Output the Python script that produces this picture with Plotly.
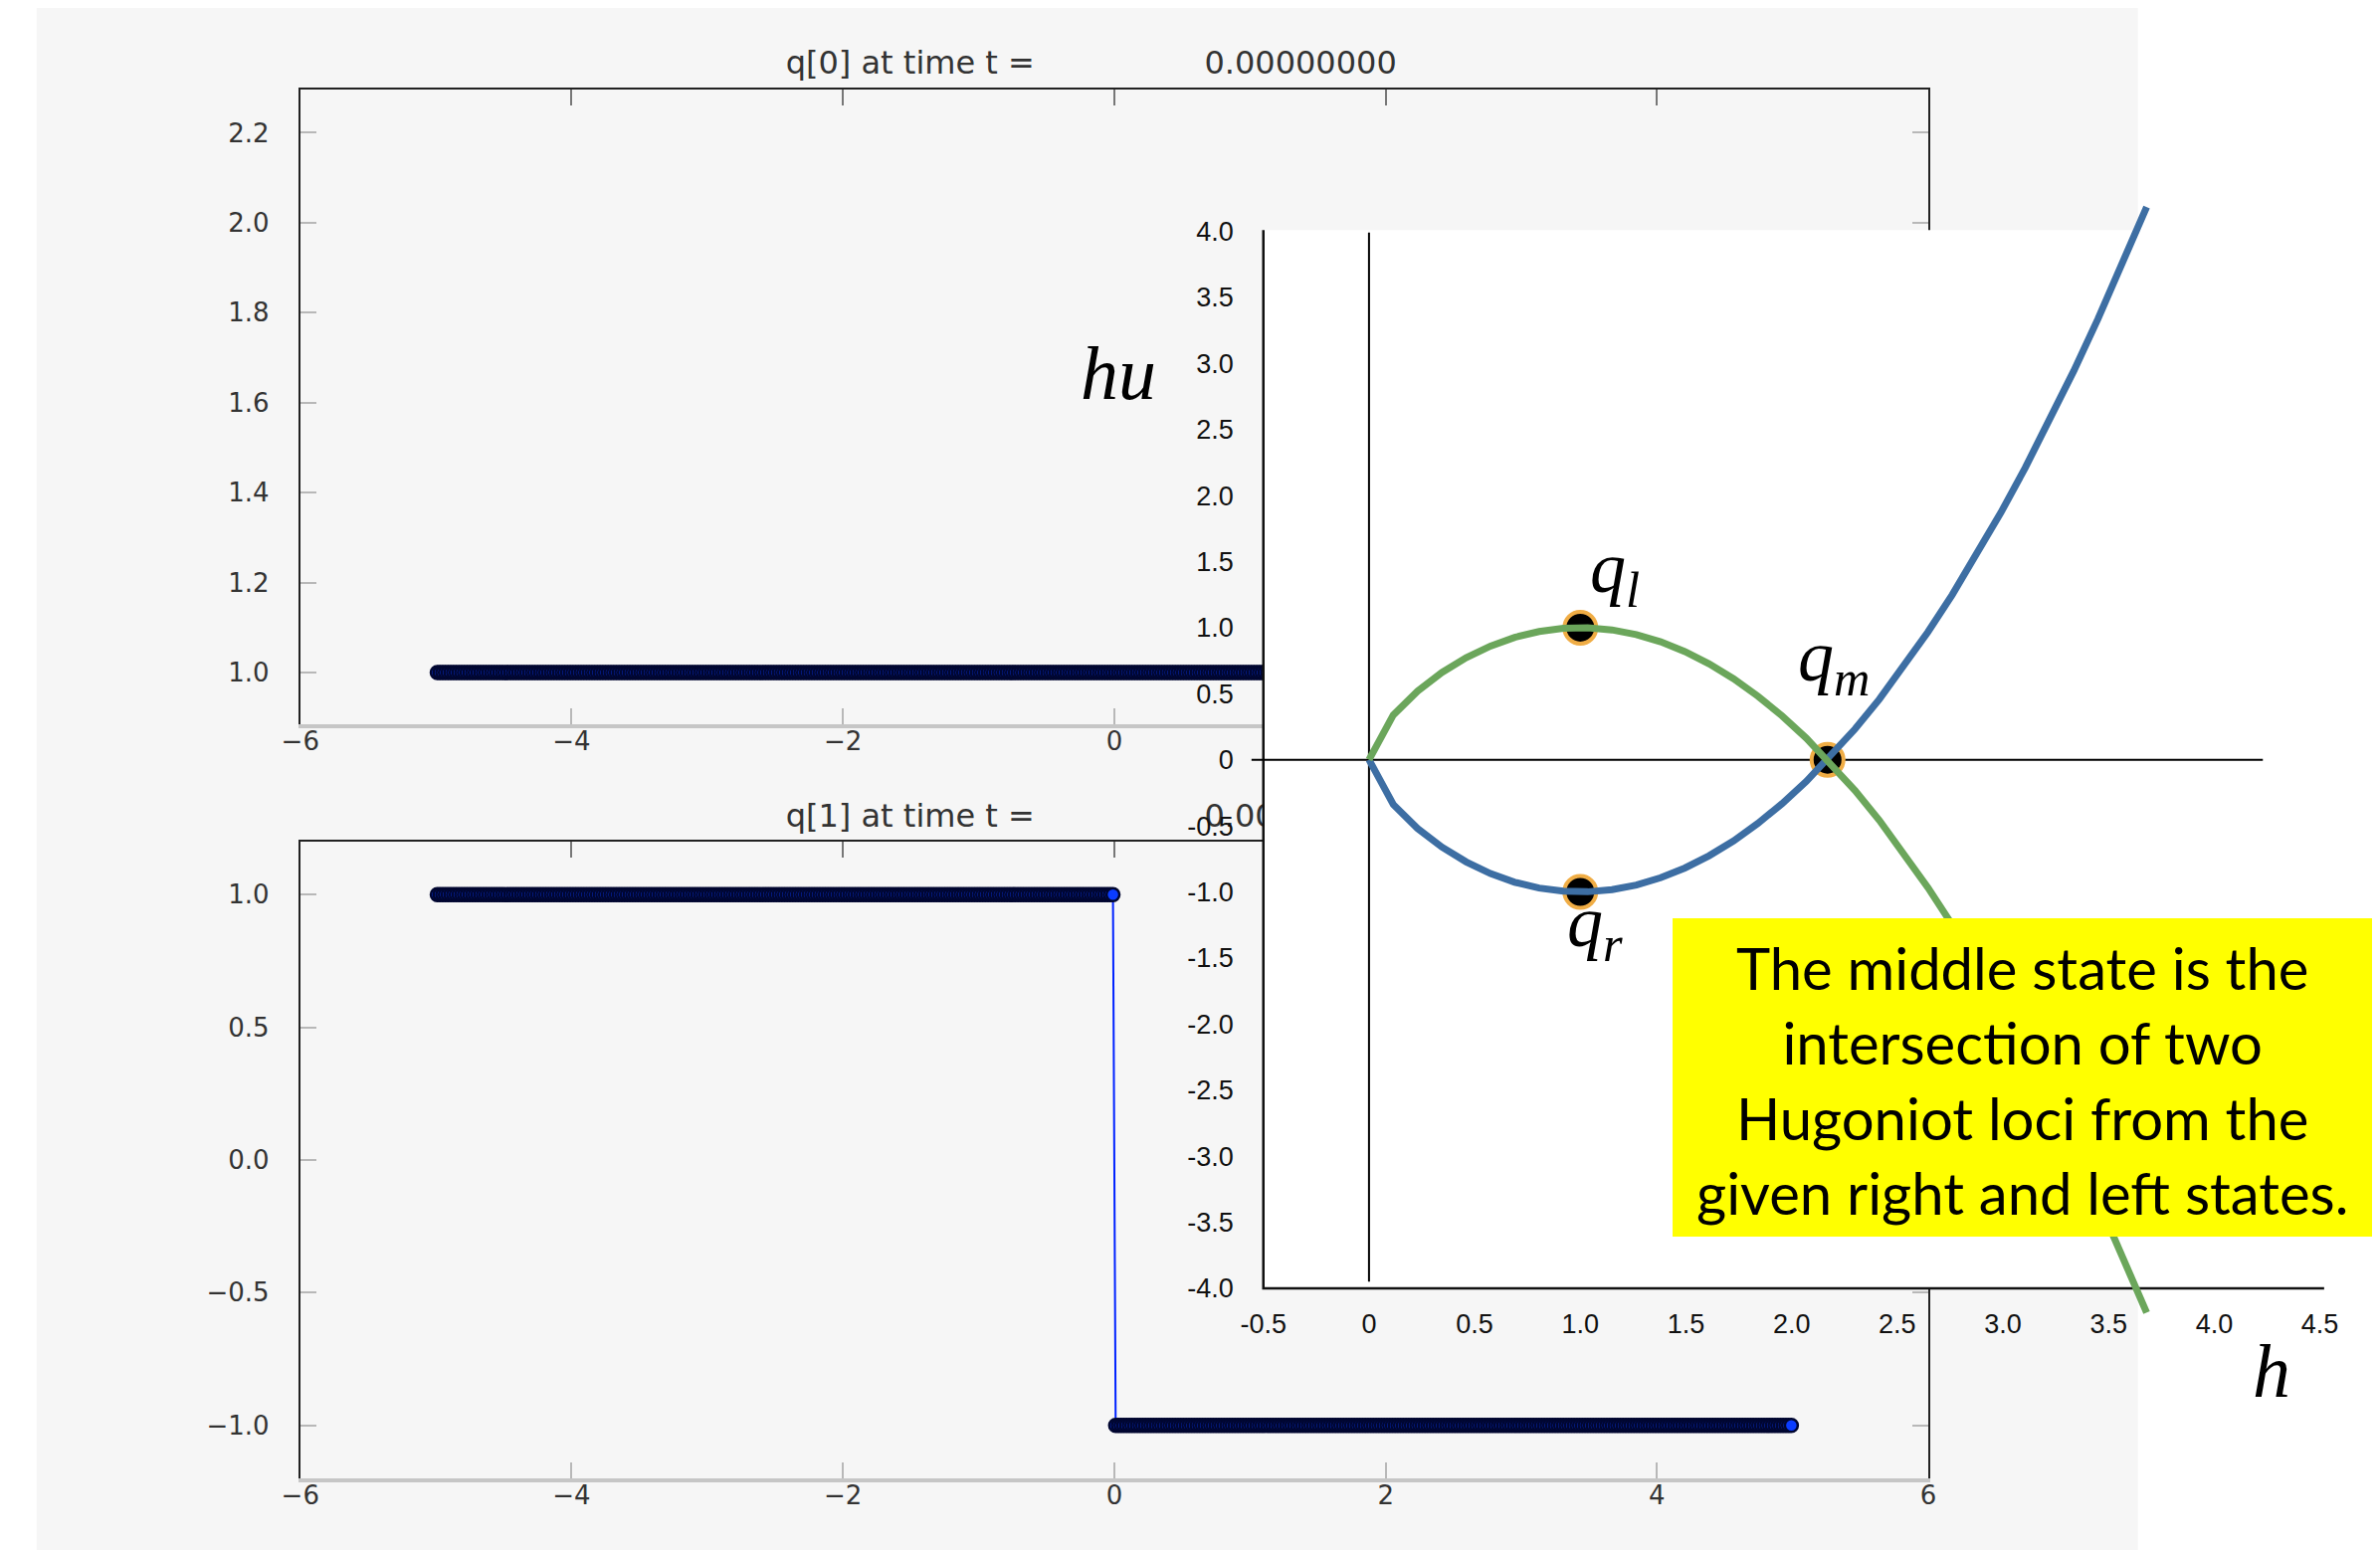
import numpy as np
import plotly.graph_objects as go

W, H = 2392, 1558

# ---------------------------------------------------------------------------
# Finite-volume snapshot of the shallow water Riemann problem at t = 0
# ---------------------------------------------------------------------------
num_cells = 500
x_lower, x_upper = -5.0, 5.0
depth_left, depth_right = 1.0, 1.0          # q[0] = h
momentum_left, momentum_right = 1.0, -1.0   # q[1] = hu

# ---------------------------------------------------------------------------
# Phase plane (h, hu): Hugoniot loci through the left and right states
# ---------------------------------------------------------------------------
h_samples = [0.0, 0.115, 0.23, 0.345, 0.46, 0.575, 0.69, 0.805, 0.92, 1.035,
             1.15, 1.265, 1.38, 1.495, 1.61, 1.725, 1.84, 1.955, 2.07, 2.185,
             2.3, 2.415, 2.53, 2.645, 2.76, 2.875, 2.99, 3.105, 3.22, 3.335,
             3.45, 3.565, 3.68]
hu_locus_left = [0.0, 0.339, 0.520, 0.661, 0.773, 0.861, 0.927, 0.971, 0.995,
                 0.999, 0.983, 0.948, 0.893, 0.819, 0.726, 0.614, 0.482, 0.332,
                 0.163, -0.026, -0.233, -0.458, -0.703, -0.967, -1.249, -1.550,
                 -1.870, -2.209, -2.567, -2.943, -3.338, -3.752, -4.184]
hu_locus_right = [0.0, -0.339, -0.520, -0.661, -0.773, -0.861, -0.927, -0.971,
                  -0.995, -0.999, -0.983, -0.948, -0.893, -0.819, -0.726, -0.614,
                  -0.482, -0.332, -0.163, 0.026, 0.233, 0.458, 0.703, 0.967, 1.249,
                  1.550, 1.870, 2.209, 2.567, 2.943, 3.338, 3.752, 4.184]

state_h = [1.0, 2.17, 1.0]       # q_l, q_m, q_r
state_hu = [1.0, 0.0, -1.0]

# ---------------------------------------------------------------------------
# Tick values / labels
# ---------------------------------------------------------------------------
sim_x_ticks = [-6, -4, -2, 0, 2, 4, 6]
sim_x_text = ["\u22126", "\u22124", "\u22122", "0", "2", "4", "6"]
depth_ticks = [1.0, 1.2, 1.4, 1.6, 1.8, 2.0, 2.2]
depth_text = ["1.0", "1.2", "1.4", "1.6", "1.8", "2.0", "2.2"]
mom_ticks = [-1.0, -0.5, 0.0, 0.5, 1.0]
mom_text = ["\u22121.0", "\u22120.5", "0.0", "0.5", "1.0"]
phase_h_ticks = [-0.5, 0, 0.5, 1.0, 1.5, 2.0, 2.5, 3.0, 3.5, 4.0, 4.5]
phase_h_text = ["-0.5", "0", "0.5", "1.0", "1.5", "2.0", "2.5", "3.0", "3.5", "4.0", "4.5"]
phase_hu_ticks = [4.0, 3.5, 3.0, 2.5, 2.0, 1.5, 1.0, 0.5, 0.0, -0.5, -1.0, -1.5,
                  -2.0, -2.5, -3.0, -3.5, -4.0]
phase_hu_text = ["4.0", "3.5", "3.0", "2.5", "2.0", "1.5", "1.0", "0.5", "0",
                 "-0.5", "-1.0", "-1.5", "-2.0", "-2.5", "-3.0", "-3.5", "-4.0"]

title_left = ["q[0] at time t =", "q[1] at time t ="]
title_time = "0.00000000"

# ---------------------------------------------------------------------------
# Build cell data
# ---------------------------------------------------------------------------
dx = (x_upper - x_lower) / num_cells
xc = x_lower + (np.arange(num_cells) + 0.5) * dx
q0 = np.where(xc < 0, depth_left, depth_right)
q1 = np.where(xc < 0, momentum_left, momentum_right)


def px_x(p):
    return p / W


def px_y(p):
    return 1 - p / H


PANEL_GRAY = "#f6f6f6"
SIM_FONT = dict(family="DejaVu Sans", size=26, color="#333333")
TITLE_FONT = dict(family="DejaVu Sans", size=32, color="#333333")
PHASE_FONT = dict(family="Liberation Sans", size=27, color="#111111")
MATH_FONT = "Liberation Serif"
NOHOVER = dict(showlegend=False, hoverinfo="skip")

fig = go.Figure()

# --- solution plots (subplots xy and x2y2) --------------------------------
for q, xa, ya in [(q0, "x", "y"), (q1, "x2", "y2")]:
    fig.add_trace(go.Scatter(
        x=xc, y=q, xaxis=xa, yaxis=ya, mode="lines+markers",
        line=dict(color="#0022ff", width=2),
        marker=dict(size=13, color="#0a3cff", line=dict(color="#000630", width=2.5)),
        **NOHOVER))

# empty traces for the top-edge frame axes
for xa, ya in [("x4", "y"), ("x5", "y2")]:
    fig.add_trace(go.Scatter(x=[None], y=[None], xaxis=xa, yaxis=ya, **NOHOVER))

# --- page-pixel layer (x3y3) holding the panel titles ---------------------
title_label_x = 906      # centre of "q[k] at time t ="
title_time_x = 1205      # left edge of the time stamp
title_px_y = [66, 823]
for k in range(2):
    fig.add_trace(go.Scatter(
        x=[title_label_x], y=[title_px_y[k]], xaxis="x3", yaxis="y3",
        mode="text", text=[title_left[k]], textposition="middle center",
        textfont=TITLE_FONT, **NOHOVER))
    fig.add_trace(go.Scatter(
        x=[title_time_x], y=[title_px_y[k]], xaxis="x3", yaxis="y3",
        mode="text", text=[title_time], textposition="middle right",
        textfont=TITLE_FONT, **NOHOVER))

# --- phase plane inset (x6y6), drawn over everything above ----------------
inset_left, inset_right = -0.5, 4.75
inset_bottom, inset_top = -4.0, 4.01
fig.add_trace(go.Scatter(
    x=[inset_left, inset_right, inset_right, inset_left, inset_left],
    y=[inset_bottom, inset_bottom, inset_top, inset_top, inset_bottom],
    xaxis="x6", yaxis="y6", mode="lines", fill="toself", fillcolor="#ffffff",
    line=dict(width=0, color="#ffffff"), **NOHOVER))

# axis frame (left + bottom)
fig.add_trace(go.Scatter(
    x=[inset_left, inset_left, 4.52], y=[inset_top, inset_bottom, inset_bottom],
    xaxis="x6", yaxis="y6", mode="lines", line=dict(color="#111111", width=2.5),
    **NOHOVER))

# coordinate axes through the origin
fig.add_trace(go.Scatter(
    x=[-0.556, 4.23], y=[0, 0], xaxis="x6", yaxis="y6", mode="lines",
    line=dict(color="#000000", width=2), **NOHOVER))
fig.add_trace(go.Scatter(
    x=[0, 0], y=[-3.95, 3.99], xaxis="x6", yaxis="y6", mode="lines",
    line=dict(color="#000000", width=2), **NOHOVER))

# states
fig.add_trace(go.Scatter(
    x=state_h, y=state_hu, xaxis="x6", yaxis="y6", mode="markers",
    marker=dict(size=32, color="#000000", line=dict(color="#f0ad45", width=4)),
    cliponaxis=False, **NOHOVER))

# Hugoniot loci
fig.add_trace(go.Scatter(
    x=h_samples, y=hu_locus_right, xaxis="x6", yaxis="y6", mode="lines",
    line=dict(color="#3d6ea3", width=7), **NOHOVER))
fig.add_trace(go.Scatter(
    x=h_samples, y=hu_locus_left, xaxis="x6", yaxis="y6", mode="lines",
    line=dict(color="#6ba65b", width=7), **NOHOVER))

# ---------------------------------------------------------------------------
# Axes
# ---------------------------------------------------------------------------
sim_x_domain = [px_x(286), px_x(1941)]
common_x = dict(range=[-6, 6], tickmode="array", tickvals=sim_x_ticks,
                ticktext=sim_x_text, ticks="inside", ticklen=16, tickwidth=2,
                tickcolor="#b8b8b8", showline=True, linecolor="#c6c6c6",
                linewidth=4, showgrid=False, zeroline=False, tickfont=SIM_FONT,
                ticklabelstandoff=-9, fixedrange=True)
common_y = dict(tickmode="array", ticks="inside", ticklen=16, tickwidth=2,
                tickcolor="#b8b8b8", showline=True, linecolor="#222222",
                linewidth=2, mirror="ticks", showgrid=False, zeroline=False,
                tickfont=SIM_FONT, ticklabelstandoff=24, fixedrange=True)
top_frame = dict(range=[-6, 6], tickmode="array", tickvals=sim_x_ticks,
                 showticklabels=False, ticks="inside", ticklen=16, tickwidth=2,
                 tickcolor="#777777", showline=True, linecolor="#222222",
                 linewidth=2, showgrid=False, zeroline=False, side="top")
hidden = dict(visible=False, showgrid=False, zeroline=False, fixedrange=True)

fig.update_layout(
    width=W, height=H,
    margin=dict(l=0, r=0, t=0, b=0),
    paper_bgcolor="#ffffff",
    plot_bgcolor="rgba(0,0,0,0)",
    showlegend=False,
    xaxis=dict(domain=sim_x_domain, anchor="y", **common_x),
    yaxis=dict(domain=[px_y(728), px_y(89.6)], anchor="x", range=[0.885, 2.297],
               tickvals=depth_ticks, ticktext=depth_text, **common_y),
    xaxis2=dict(domain=sim_x_domain, anchor="y2", **common_x),
    yaxis2=dict(domain=[px_y(1486), px_y(846)], anchor="x2", range=[-1.2, 1.2],
                tickvals=mom_ticks, ticktext=mom_text, **common_y),
    xaxis3=dict(domain=[0, 1], range=[0, W], anchor="y3", **hidden),
    yaxis3=dict(domain=[0, 1], range=[H, 0], anchor="x3", **hidden),
    xaxis4=dict(overlaying="x", anchor="y", **top_frame),
    xaxis5=dict(overlaying="x2", anchor="y2", **top_frame),
    xaxis6=dict(domain=[px_x(1200), 1.0], range=[-0.8026, 4.7467],
                anchor="free", position=px_y(1294), showline=False, ticks="",
                tickmode="array", tickvals=phase_h_ticks, ticktext=phase_h_text,
                tickfont=PHASE_FONT, ticklabelstandoff=18, showgrid=False,
                zeroline=False, fixedrange=True),
    yaxis6=dict(domain=[px_y(1340), px_y(190)], range=[-4.3396, 4.32],
                anchor="free", position=px_x(1265), showline=False, ticks="",
                tickmode="array", tickvals=phase_hu_ticks, ticktext=phase_hu_text,
                tickfont=PHASE_FONT, ticklabelstandoff=30, showgrid=False,
                zeroline=False, fixedrange=True),
    shapes=[
        dict(type="rect", xref="paper", yref="paper", layer="below",
             x0=px_x(18), x1=px_x(2154), y0=0, y1=px_y(8),
             fillcolor=PANEL_GRAY, line=dict(width=0)),
        dict(type="rect", xref="paper", yref="paper", layer="above",
             x0=px_x(1681), x1=1.0, y0=px_y(1243), y1=px_y(923),
             fillcolor="#ffff00", line=dict(width=0)),
    ],
)

annotations = [
    dict(text="<i>hu</i>", x=px_x(1118), y=px_y(375), font_size=76),
    dict(text="<i>h</i>", x=px_x(2290), y=px_y(1378), font_size=76),
    dict(text="<i>q<sub>l</sub></i>", x=px_x(1595), y=px_y(576), font_size=72,
         xanchor="left"),
    dict(text="<i>q<sub>m</sub></i>", x=px_x(1806), y=px_y(665), font_size=72,
         xanchor="left"),
    dict(text="<i>q<sub>r</sub></i>", x=px_x(1572), y=px_y(932), font_size=72,
         xanchor="left"),
]
for a in annotations:
    fs = a.pop("font_size")
    fig.add_annotation(xref="paper", yref="paper", showarrow=False,
                       xanchor=a.pop("xanchor", "center"), yanchor="middle",
                       font=dict(family=MATH_FONT, size=fs, color="#000000"), **a)

fig.add_annotation(
    text=("The middle state is the<br>intersection of two<br>"
          "Hugoniot loci from the<br>given right and left states."),
    xref="paper", yref="paper", x=px_x(2036), y=px_y(1085),
    xanchor="center", yanchor="middle", align="center", showarrow=False,
    font=dict(family="Lato", size=58, color="#000000"))

fig.write_html("out.html")
